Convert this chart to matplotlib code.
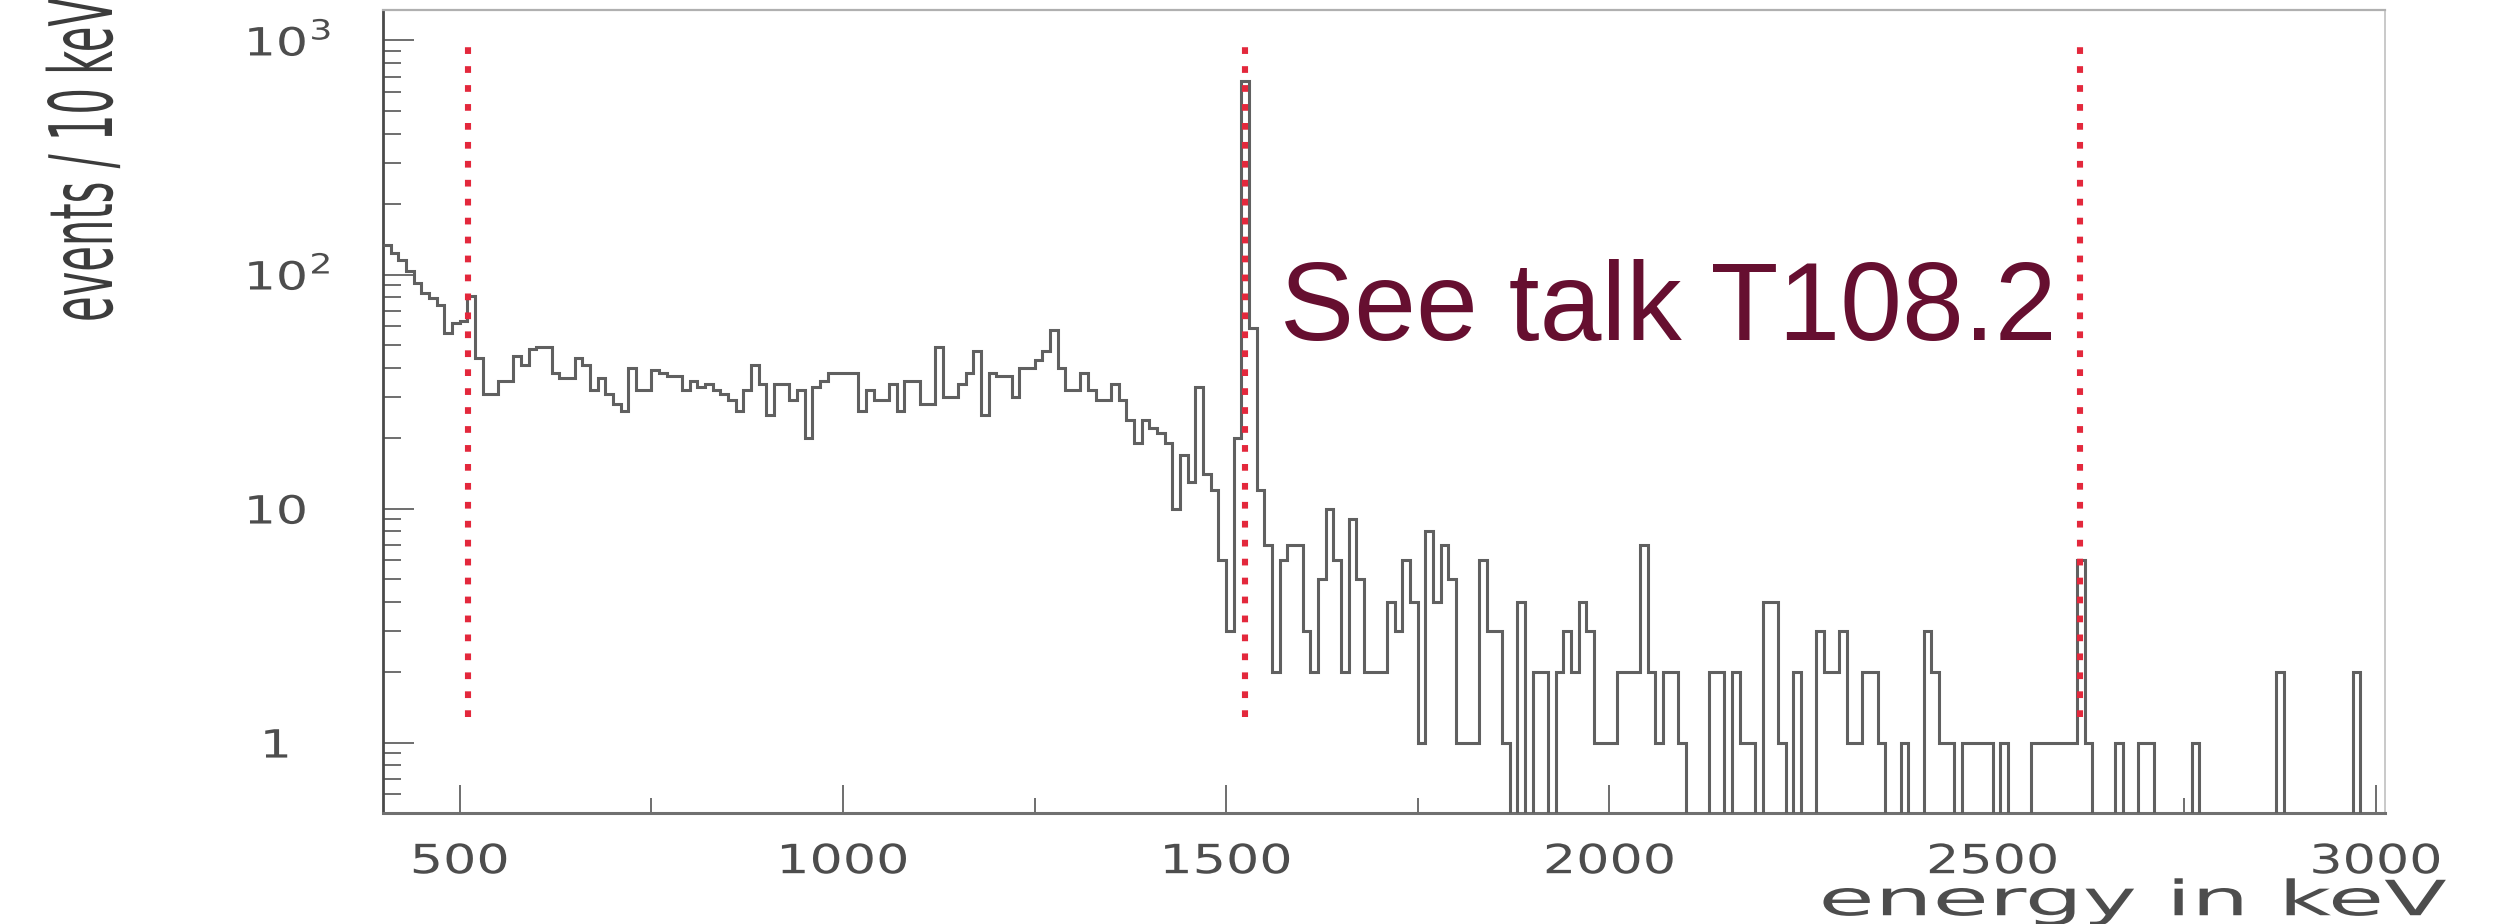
import numpy as np
import matplotlib.pyplot as plt
import matplotlib.patheffects as pe
from matplotlib.ticker import LogLocator, MultipleLocator, NullFormatter
from matplotlib.transforms import Affine2D, blended_transform_factory, offset_copy

# events per 10 keV bin, first bin starts at 400 keV
counts = [
    134, 124, 115, 104, 92, 83, 79, 74, 56, 62,
    63, 81, 44, 31, 31, 35, 35, 45, 41, 48,
    49, 49, 38, 36, 36, 44, 41, 32, 36, 31,
    28, 26, 40, 32, 32, 39, 38, 37, 37, 32,
    35, 33, 34, 32, 31, 29, 26, 32, 41, 34,
    25, 34, 34, 29, 32, 20, 33, 35, 38, 38,
    38, 38, 26, 32, 29, 29, 34, 26, 35, 35,
    28, 28, 49, 30, 30, 34, 38, 47, 25, 38,
    37, 37, 30, 40, 40, 43, 47, 58, 40, 32,
    32, 38, 32, 29, 29, 34, 29, 24, 19, 24,
    22, 21, 19, 10, 17, 13, 33, 14, 12, 6,
    3, 20, 670, 59, 12, 7, 2, 6, 7, 7,
    3, 2, 5, 10, 6, 2, 9, 5, 2, 2,
    2, 4, 3, 6, 4, 1, 8, 4, 7, 5,
    1, 1, 1, 6, 3, 3, 1, 0, 4, 0,
    2, 2, 0, 2, 3, 2, 4, 3, 1, 1,
    1, 2, 2, 2, 7, 2, 1, 2, 2, 1,
    0, 0, 0, 2, 2, 0, 2, 1, 1, 0,
    4, 4, 1, 0, 2, 0, 0, 3, 2, 2,
    3, 1, 1, 2, 2, 1, 0, 0, 1, 0,
    0, 3, 2, 1, 1, 0, 1, 1, 1, 1,
    0, 1, 0, 0, 0, 1, 1, 1, 1, 1,
    1, 6, 1, 0, 0, 0, 1, 0, 0, 1,
    1, 0, 0, 0, 0, 0, 1, 0, 0, 0,
    0, 0, 0, 0, 0, 0, 0, 2, 0, 0,
    0, 0, 0, 0, 0, 0, 0, 2, 0, 0,
    0,
]
bin_start = 400
bin_width = 10

# gamma lines marked in red (keV) and the span of the markers
line_energies = [511, 1525, 2614]
line_span = [1.28, 1000]

x_ticks = [500, 1000, 1500, 2000, 2500, 3000]
x_ticklabels = ['500', '1000', '1500', '2000', '2500', '3000']
y_ticks = [1, 10, 100, 1000]
y_tick_base = ['1', '10', '10', '10']
y_tick_exp = ['', '', '2', '3']

gray = '#606060'
maroon = '#660f30'
txt_gray = '#4d4d4d'


class Stretch(pe.AbstractPathEffect):
    """ Stretch text glyphs, the original plot was pasted stretched """

    def __init__(self, sx=1., sy=1., anchor='center'):
        super().__init__()
        self.sx, self.sy, self.anchor = sx, sy, anchor

    def draw_path(self, renderer, gc, tpath, affine, rgbFace=None):
        bb = tpath.get_extents()
        x0 = {'left': bb.x0, 'center': 0.5*(bb.x0 + bb.x1), 'right': bb.x1}[self.anchor]
        t = Affine2D().translate(-x0, 0).scale(self.sx, self.sy).translate(x0, 0)
        renderer.draw_path(gc, tpath, t + affine, rgbFace)


counts = np.array(counts, dtype=float)
edges = bin_start + bin_width*np.arange(len(counts) + 1)
# empty bins drop to the bottom of the log axis
plot_counts = np.where(counts > 0, counts, 1e-3)

fig = plt.figure(figsize=(25.15, 9.24), dpi=100)
ax = fig.add_axes([0.1523, 0.1201, 0.7960, 0.8691])

ax.stairs(plot_counts, edges, baseline=None, color=gray, lw=2.2, zorder=3)

for e in line_energies :
    ax.plot([e, e], line_span, color='#e3283c', lw=4.4, ls=(0, (1.1, 2.0)),
            dash_capstyle='butt', zorder=4)

ax.set_yscale('log')
ax.set_xlim(400, 3012)
ax.set_ylim(0.50, 1350)

# axis frame
ax.spines['left'].set_color('#4a4a4a')
ax.spines['left'].set_linewidth(2.0)
ax.spines['bottom'].set_color('#707070')
ax.spines['bottom'].set_linewidth(2.2)
ax.spines['top'].set_color('#b0b0b0')
ax.spines['top'].set_linewidth(1.6)
ax.spines['right'].set_color('#c0c0c0')
ax.spines['right'].set_linewidth(1.2)

# ticks inside like ROOT
ax.set_xticks(x_ticks)
ax.set_xticklabels(x_ticklabels)
ax.xaxis.set_minor_locator(MultipleLocator(250))
ax.tick_params(axis='x', which='major', direction='in', length=20, width=1.2,
               color='#555555', pad=21, labelsize=29, labelcolor=txt_gray)
ax.tick_params(axis='x', which='minor', direction='in', length=11, width=1.2,
               color='#555555')
for lab in ax.get_xticklabels() :
    lab.set_path_effects([Stretch(sx=1.3)])

ax.set_yticks(y_ticks)
ax.yaxis.set_minor_locator(LogLocator(base=10, subs=np.arange(2, 10)))
ax.yaxis.set_minor_formatter(NullFormatter())
ax.tick_params(axis='y', which='major', direction='in', length=22, width=1.2,
               color='#555555', labelleft=False)
ax.tick_params(axis='y', which='minor', direction='in', length=13, width=1.2,
               color='#555555')

# y tick labels by hand: ROOT style "10" with a detached exponent
ytrans = blended_transform_factory(fig.transFigure, ax.transData)
sup_trans = offset_copy(ytrans, fig=fig, x=0, y=1, units='dots')
for val, base, ex in zip(y_ticks, y_tick_base, y_tick_exp) :
    xl = (261 if base == '1' else 245)/2515
    t = ax.text(xl, val, base, transform=ytrans, ha='left', va='center_baseline',
                fontsize=28, color=txt_gray)
    t.set_path_effects([Stretch(sx=1.3, anchor='left')])
    if ex :
        s = ax.text(310/2515, val, ex, transform=sup_trans, ha='left', va='baseline',
                    fontsize=20, color=txt_gray)
        s.set_path_effects([Stretch(sx=1.3, anchor='left')])

ylab = fig.text(112/2515, 1 - 322/924, 'events / 10 keV', rotation=90,
                rotation_mode='anchor', ha='left', va='baseline',
                fontsize=30, color='#3c3c3c')
ylab.set_path_effects([Stretch(sy=2.1, anchor='left')])

xlab = fig.text(2446/2515, 0.0095, 'energy in keV', ha='right', va='baseline',
                fontsize=35, color=txt_gray)
xlab.set_path_effects([Stretch(sx=1.88, anchor='right')])

fig.text(1280/2515, 1 - 340/924, 'See talk T108.2', family='Liberation Sans',
         fontsize=80, color=maroon, ha='left', va='baseline')

fig.savefig('out.png', dpi=100)
